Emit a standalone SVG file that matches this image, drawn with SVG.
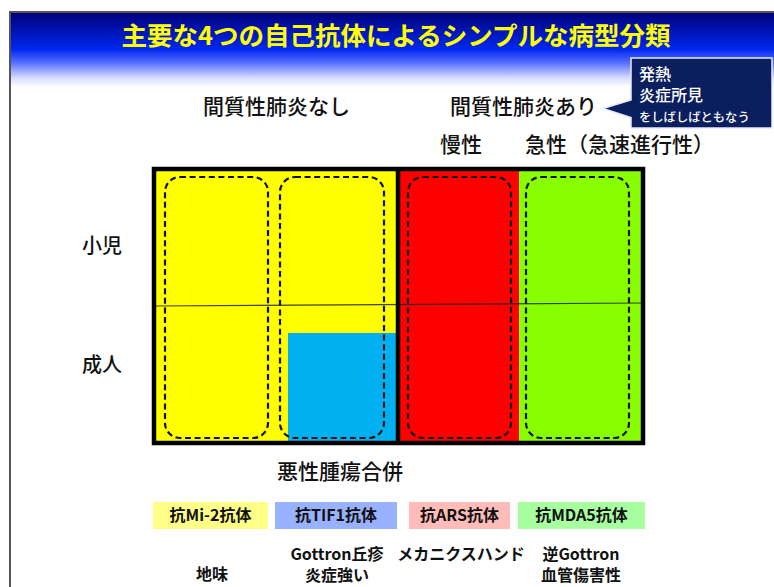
<svg xmlns="http://www.w3.org/2000/svg" width="774" height="587" viewBox="0 0 774 587">
<defs>
<linearGradient id="hdr" x1="0" y1="0" x2="0" y2="1">
<stop offset="0" stop-color="#000078"/>
<stop offset="0.5" stop-color="#0028f0"/>
<stop offset="0.68" stop-color="#5a70ff"/>
<stop offset="0.88" stop-color="#d8ddff"/>
<stop offset="1" stop-color="#ffffff"/>
</linearGradient>
<style>
.t{font-family:"Noto Sans CJK JP","Noto Sans",sans-serif;fill:#111}
.h{font-size:21px;font-weight:500}
.lb{font-size:16px;font-weight:bold;text-anchor:middle}
.bt{font-size:16px;font-weight:bold;text-anchor:middle}
.dash{fill:none;stroke:#111;stroke-width:2.2;stroke-dasharray:6 3.6}
.w{fill:#fff;font-family:"Noto Sans CJK JP","Noto Sans",sans-serif;font-weight:500}
</style>
</defs>
<rect x="0" y="0" width="774" height="587" fill="#fff"/>
<g id="header">
<rect x="10" y="12" width="764" height="75" fill="url(#hdr)"/>
<path d="M10,587 V12 H774" fill="none" stroke="#555" stroke-width="2"/>
<text x="396" y="45" text-anchor="middle" font-family="'Noto Sans CJK JP',sans-serif" font-weight="bold" font-size="25.5" fill="#ffff00">主要な4つの自己抗体によるシンプルな病型分類</text>
</g>
<g id="callout">
<path d="M631,58 H772 V128 H631 V117.5 L603,108.5 L631,100 Z" fill="#0b1f5e" stroke="#e6e9ff" stroke-width="1.5"/>
<text class="w" x="639" y="80" font-size="16">発熱</text>
<text class="w" x="639" y="101" font-size="16">炎症所見</text>
<text class="w" x="639" y="122" font-size="12.3">をしばしばともなう</text>
</g>
<g id="col-headers">
<text class="t h" x="203" y="114">間質性肺炎なし</text>
<text class="t h" x="450" y="114">間質性肺炎あり</text>
<text class="t h" x="440" y="152">慢性</text>
<text class="t h" x="525" y="152">急性（急速進行性）</text>
</g>
<g id="row-labels">
<text class="t" x="82" y="253" font-size="20" font-weight="500">小児</text>
<text class="t" x="82" y="372" font-size="20" font-weight="500">成人</text>
</g>
<g id="matrix">
<rect x="154" y="169" width="244" height="274" fill="#ffff00"/>
<rect x="288" y="333" width="110" height="110" fill="#00b0f0"/>
<rect x="398" y="169" width="121" height="274" fill="#ff0000"/>
<rect x="519" y="169" width="124" height="274" fill="#88ff00"/>
<line x1="154" y1="306" x2="643" y2="303" stroke="#222" stroke-width="1.2" stroke-opacity="0.85"/>
<rect x="154" y="169" width="489" height="274" fill="none" stroke="#000" stroke-width="4.5"/>
<line x1="398" y1="169" x2="398" y2="443" stroke="#000" stroke-width="4.5"/>
</g>
<g id="node-mi2"><rect class="dash" x="165" y="177" width="103" height="261" rx="15"/></g>
<g id="node-tif1"><rect class="dash" x="280" y="177" width="104" height="261" rx="15"/></g>
<g id="node-ars"><rect class="dash" x="408" y="177" width="103" height="261" rx="15"/></g>
<g id="node-mda5"><rect class="dash" x="526" y="177" width="103" height="261" rx="15"/></g>
<g id="connectors"></g>
<g id="malignancy">
<text class="t h" x="277" y="479">悪性腫瘍合併</text>
</g>
<g id="legend">
<g id="lg-mi2"><rect x="153" y="502" width="115" height="27" fill="#ffff88"/><text class="t lb" x="210.5" y="521">抗Mi-2抗体</text></g>
<g id="lg-tif1"><rect x="275" y="502" width="122" height="27" fill="#99b2ff"/><text class="t lb" x="336" y="521">抗TIF1抗体</text></g>
<g id="lg-ars"><rect x="409" y="502" width="101" height="27" fill="#ffbcb8"/><text class="t lb" x="459.5" y="521">抗ARS抗体</text></g>
<g id="lg-mda5"><rect x="518" y="502" width="127" height="27" fill="#a8ffa0"/><text class="t lb" x="581.5" y="521">抗MDA5抗体</text></g>
</g>
<g id="features">
<text class="t bt" x="212" y="580">地味</text>
<text class="t bt" x="337" y="560">Gottron丘疹</text>
<text class="t bt" x="337" y="581">炎症強い</text>
<text class="t bt" x="461" y="560">メカニクスハンド</text>
<text class="t bt" x="581" y="560">逆Gottron</text>
<text class="t bt" x="581" y="581">血管傷害性</text>
</g>
</svg>
